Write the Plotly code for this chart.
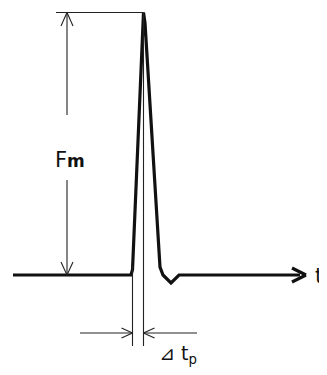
import plotly.graph_objects as go

# Pulse (schematic): time in arbitrary units, force normalised to peak Fm = 1
time = [13, 131, 132.5, 143.5, 145, 160, 163, 171, 179, 300]
force = [0.0, 0.0, 0.02, 1.0, 0.96, 0.03, 0.0, -0.03, 0.0, 0.0]

peak_force = 1.0
rise_start = 132.5
peak_time = 143.5

BODY = 8.0          # default page margin of the html body
BASE_PX = 275.0
SCALE = 262.5
def fy(py):
    return (BASE_PX - py) / SCALE

PAGE_W, PAGE_H = 327, 375
W, H = PAGE_W - BODY, PAGE_H - 2 * BODY
fig = go.Figure()
fig.add_trace(go.Scatter(x=time, y=force, mode="lines",
                         line=dict(color="#111", width=3.2),
                         hoverinfo="skip", showlegend=False))

shapes = []
thin = dict(color="#222", width=1.1)
thick = dict(color="#111", width=3.2)
def seg(x0, y0, x1, y1, line=thin):
    shapes.append(dict(type="line", xref="x", yref="y", x0=x0, y0=y0, x1=x1, y1=y1, line=line))

# axis arrow head (chevron)
seg(306, 0, 292, fy(268), thick)
seg(306, 0, 292, fy(282), thick)

# top reference line at peak
seg(56, peak_force, peak_time, peak_force)

# vertical dimension line for Fm (with gap for label)
dim_x = 67
seg(dim_x, peak_force, dim_x, fy(115))
seg(dim_x, fy(180), dim_x, 0)
# open arrowheads
seg(dim_x, peak_force, dim_x - 6, fy(26))
seg(dim_x, peak_force, dim_x + 6, fy(26))
seg(dim_x, 0, dim_x - 6, fy(262))
seg(dim_x, 0, dim_x + 6, fy(262))

# extension lines for rise time
seg(rise_start, fy(266), rise_start, fy(346))
seg(peak_time, peak_force, peak_time, fy(346))

# rise-time arrows
ay = fy(333)
seg(80, ay, rise_start, ay)
seg(rise_start, ay, rise_start - 11, fy(328))
seg(rise_start, ay, rise_start - 11, fy(338))
seg(197, ay, peak_time, ay)
seg(peak_time, ay, peak_time + 11, fy(328))
seg(peak_time, ay, peak_time + 11, fy(338))

annotations = [
    dict(x=70, y=fy(160), xref="x", yref="y",
         text="F<span style='font-size:17px;font-weight:bold'>m</span>", showarrow=False,
         font=dict(family="DejaVu Sans", size=21, color="#111")),
    dict(x=313, y=fy(276), xref="x", yref="y", text="t", showarrow=False, xanchor="left",
         font=dict(family="DejaVu Sans", size=21, color="#111")),
    dict(x=178, y=fy(354), xref="x", yref="y", text="⊿ t<sub>p</sub>", showarrow=False,
         font=dict(family="DejaVu Sans", size=19, color="#111")),
]

fig.update_layout(
    width=W, height=H, margin=dict(l=0, r=0, t=0, b=0),
    paper_bgcolor="white", plot_bgcolor="white",
    xaxis=dict(range=[BODY, BODY + W], visible=False, fixedrange=True),
    yaxis=dict(range=[fy(BODY + H), fy(BODY)], visible=False, fixedrange=True),
    shapes=shapes, annotations=annotations,
)
fig.write_html("out.html")
